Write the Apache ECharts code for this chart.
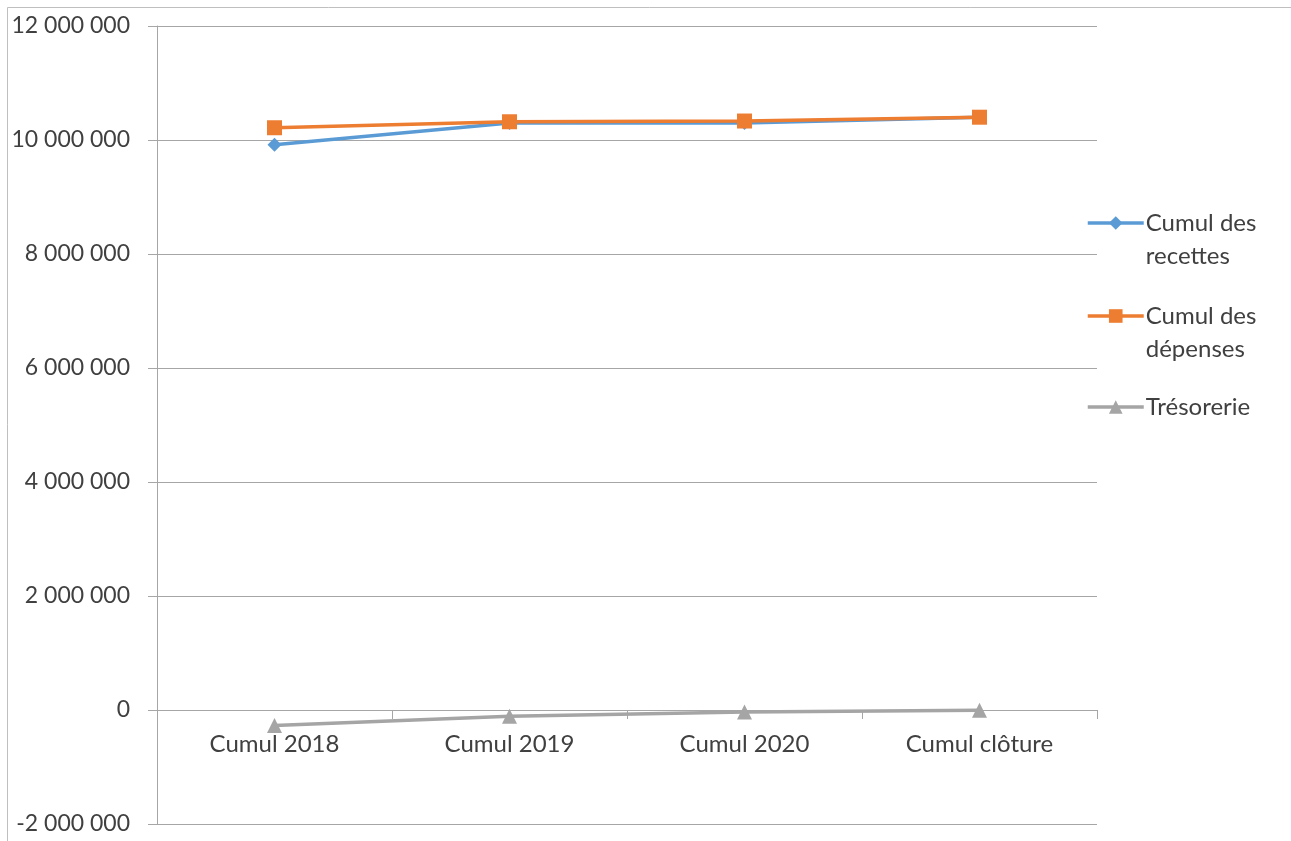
<!DOCTYPE html>
<html><head><meta charset="utf-8">
<script src="https://cdn.jsdelivr.net/npm/echarts@6/dist/echarts.min.js"></script>
<style>html,body{margin:0;padding:0;background:#fff}#c{width:1291px;height:841px}</style>
</head><body><div id="c"></div>
<script>
const categories = ['Cumul 2018', 'Cumul 2019', 'Cumul 2020', 'Cumul clôture'];
const recettes = [9915000, 10300000, 10300000, 10400000];
const depenses = [10215000, 10320000, 10333000, 10400000];
const tresorerie = [-270000, -110000, -35000, -5000];
const seriesNames = ['Cumul des recettes', 'Cumul des dépenses', 'Trésorerie'];
const legendLabels = ['\nCumul des\nrecettes', '\nCumul des\ndépenses', 'Trésorerie'];

const FONT = 'Lato, "Open Sans", sans-serif';
const fmt = v => String(v).replace(/\B(?=(\d{3})+(?!\d))/g, ' ');
const legendTops = [173.5, 266.5, 390.5];
const legends = seriesNames.map((n, i) => ({
  orient: 'vertical', left: 1086, top: legendTops[i], padding: 0,
  itemWidth: 56, itemHeight: 17, itemGap: 0,
  lineStyle: { width: 3.5 },
  data: [n],
  formatter: () => legendLabels[i],
  textStyle: { fontFamily: FONT, fontSize: 24, color: '#404040', lineHeight: 33, padding: [0, 0, 0, -3] }
}));
const chart = echarts.init(document.getElementById('c'));
chart.setOption({
  animation: false,
  textStyle: { fontFamily: FONT },
  graphic: [{ type: 'rect', shape: { x: 7.5, y: 7.5, width: 1400, height: 1000 }, style: { fill: 'none', stroke: '#bfbfbf', lineWidth: 1 }, silent: true }],
  grid: { left: 157, top: 26, width: 940, height: 798, containLabel: false, outerBoundsMode: 'none' },
  legend: legends,
  xAxis: {
    type: 'category', data: categories, boundaryGap: true, position: 'bottom', offset: -114,
    axisLine: { onZero: false, lineStyle: { color: '#a6a6a6', width: 1 } },
    axisTick: { show: true, length: 9, alignWithLabel: false, lineStyle: { color: '#a6a6a6' } },
    axisLabel: { fontSize: 24, color: '#404040', margin: 22, fontFamily: FONT }
  },
  yAxis: {
    type: 'value', min: -2000000, max: 12000000, interval: 2000000,
    axisLine: { show: true, lineStyle: { color: '#a6a6a6' } },
    axisTick: { show: true, length: 9, lineStyle: { color: '#a6a6a6' } },
    splitLine: { lineStyle: { color: '#a6a6a6', width: 1 } },
    axisLabel: { fontSize: 23, color: '#404040', margin: 27, formatter: fmt, fontFamily: FONT }
  },
  series: [
    { name: seriesNames[0], type: 'line', data: recettes, symbol: 'diamond', symbolSize: 14,
      lineStyle: { color: '#5B9BD5', width: 3.5 }, itemStyle: { color: '#5B9BD5' }, z: 3 },
    { name: seriesNames[1], type: 'line', data: depenses, symbol: 'rect', symbolSize: 15,
      lineStyle: { color: '#ED7D31', width: 3.5 }, itemStyle: { color: '#ED7D31' }, z: 4 },
    { name: seriesNames[2], type: 'line', data: tresorerie, symbol: 'triangle', symbolSize: 15,
      lineStyle: { color: '#A5A5A5', width: 3.5 }, itemStyle: { color: '#A5A5A5' }, z: 2 }
  ]
});
</script></body></html>
